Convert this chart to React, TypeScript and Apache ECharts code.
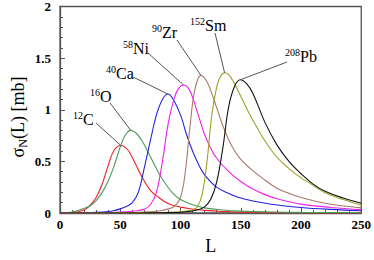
import React, { useEffect, useRef } from "react";
import * as echarts from "echarts";

const C12_L = [0, 10, 20, 25, 30, 35, 40, 45, 50.5, 56, 62, 68, 75, 82, 90, 100, 110, 120, 135, 150, 175, 200, 250];
const C12_V = [0, 0.004, 0.03, 0.075, 0.15, 0.28, 0.46, 0.61, 0.654, 0.615, 0.49, 0.35, 0.22, 0.15, 0.09, 0.057, 0.038, 0.025, 0.014, 0.008, 0.004, 0.002, 0.001];

const O16_L = [0, 10, 20, 25, 30, 35, 40, 45, 50, 54, 58.7, 63, 68, 74, 80, 86, 93, 100, 110, 120, 135, 150, 175, 200, 250];
const O16_V = [0, 0.01, 0.045, 0.07, 0.12, 0.2, 0.31, 0.46, 0.64, 0.75, 0.8, 0.775, 0.7, 0.57, 0.43, 0.31, 0.2, 0.13, 0.08, 0.05, 0.029, 0.018, 0.01, 0.006, 0.003];

const CA40_L = [0, 20, 30, 40, 45, 50, 55, 60, 65, 70, 75, 80, 85, 89.6, 94, 100, 105, 110, 115, 120, 130, 140, 150, 160, 175, 200, 225, 250];
const CA40_V = [0, 0.003, 0.006, 0.014, 0.024, 0.04, 0.063, 0.1, 0.2, 0.44, 0.7, 0.95, 1.1, 1.152, 1.1, 0.95, 0.76, 0.6, 0.47, 0.37, 0.25, 0.19, 0.145, 0.117, 0.085, 0.054, 0.035, 0.022];

const NI58_L = [0, 30, 40, 50, 60, 65, 70, 75, 80, 85, 90, 95, 98.5, 102.5, 106.5, 110, 115, 120, 125, 130, 140, 150, 160, 170, 180, 200, 225, 250];
const NI58_V = [0, 0.002, 0.004, 0.008, 0.017, 0.025, 0.038, 0.08, 0.2, 0.5, 0.88, 1.12, 1.21, 1.24, 1.21, 1.12, 0.94, 0.76, 0.63, 0.53, 0.4, 0.305, 0.232, 0.178, 0.138, 0.086, 0.054, 0.033];

const ZR90_L = [0, 40, 60, 70, 80, 85, 90, 95, 100, 104, 108, 112, 116.9, 121, 125, 130, 135, 140, 145, 150, 160, 170, 180, 190, 200, 220, 250];
const ZR90_V = [0, 0.002, 0.005, 0.009, 0.017, 0.025, 0.04, 0.065, 0.15, 0.4, 0.85, 1.2, 1.333, 1.29, 1.19, 1.02, 0.85, 0.71, 0.6, 0.52, 0.41, 0.32, 0.24, 0.19, 0.15, 0.095, 0.05];

const SM152_L = [0, 60, 80, 90, 100, 105, 110, 114, 118, 122, 126, 130, 133, 136.6, 140, 144, 148, 155, 160, 170, 180, 190, 200, 210, 220, 235, 250];
const SM152_V = [0, 0.001, 0.003, 0.006, 0.012, 0.018, 0.03, 0.06, 0.18, 0.5, 0.95, 1.22, 1.32, 1.358, 1.34, 1.27, 1.18, 1.01, 0.9, 0.7, 0.54, 0.43, 0.34, 0.27, 0.195, 0.13, 0.075];

const PB208_L = [0, 70, 80, 90, 100, 110, 115, 120, 125, 130, 135, 140, 145, 149.7, 155, 160, 170, 180, 190, 200, 210, 220, 235, 250];
const PB208_V = [0, 0.001, 0.002, 0.004, 0.008, 0.02, 0.033, 0.06, 0.13, 0.3, 0.62, 1.03, 1.23, 1.29, 1.25, 1.16, 0.88, 0.66, 0.5, 0.38, 0.28, 0.21, 0.145, 0.095];

const SERIES_L = [C12_L, O16_L, CA40_L, NI58_L, ZR90_L, SM152_L, PB208_L];
const SERIES_V = [C12_V, O16_V, CA40_V, NI58_V, ZR90_V, SM152_V, PB208_V];
const LABEL_SUP = ["12", "16", "40", "58", "90", "152", "208"];
const LABEL_EL = ["C", "O", "Ca", "Ni", "Zr", "Sm", "Pb"];
const COLORS = ["#ee2222", "#4a9a5a", "#2222dd", "#ee22ee", "#a87868", "#a0a028", "#111111"];

const X_TICKS = [0, 50, 100, 150, 200, 250];
const Y_TICKS = [0, 0.5, 1, 1.5, 2];

// label layout (pixels): text left, text middle y, leader start x, y
const LABEL_POS = [
  [73, 119, 96, 123],
  [90, 96, 110, 103],
  [106, 73.5, 133, 77],
  [123, 48.5, 148, 53],
  [152, 32.5, 177, 40],
  [190, 25, 215, 33],
  [285, 56.5, 287, 62],
];

const FONT = "serif";

export default function App() {
  const ref = useRef<HTMLDivElement>(null);
  useEffect(() => {
    const chart = echarts.init(ref.current!, null, { renderer: "svg" });
    const tickColor = "#555";
    const axisCommon = (min: number, max: number, interval: number) => ({
      type: "value",
      min,
      max,
      interval,
      axisLine: { show: true, lineStyle: { color: tickColor, width: 1.3 } },
      axisTick: { show: true, inside: true, length: 5, lineStyle: { color: tickColor, width: 1 } },
      minorTick: { show: true, splitNumber: 5, length: 3, lineStyle: { color: tickColor, width: 1 } },
      splitLine: { show: false },
      minorSplitLine: { show: false },
    });
    chart.setOption({
      animation: false,
      textStyle: { fontFamily: FONT },
      grid: { left: 60, right: 9, top: 6, bottom: 44, show: true, borderColor: tickColor, borderWidth: 1.3 },
      xAxis: {
        ...axisCommon(X_TICKS[0], X_TICKS[X_TICKS.length - 1], X_TICKS[1] - X_TICKS[0]),
        axisLabel: { fontFamily: FONT, fontWeight: "bold", fontSize: 13, color: "#000", margin: 5 },
        name: "L",
        nameLocation: "middle",
        nameGap: 24,
        nameTextStyle: { fontFamily: FONT, fontSize: 18, color: "#000" },
      },
      yAxis: {
        ...axisCommon(Y_TICKS[0], Y_TICKS[Y_TICKS.length - 1], Y_TICKS[1] - Y_TICKS[0]),
        axisLabel: { fontFamily: FONT, fontWeight: "bold", fontSize: 13, color: "#000", margin: 9 },
      },
      series: SERIES_V.map((vals, k) => ({
        type: "line",
        name: LABEL_SUP[k] + LABEL_EL[k],
        data: SERIES_L[k].map((x, i) => [x, vals[i]]),
        showSymbol: false,
        smooth: 0.4,
        lineStyle: { color: COLORS[k], width: 1.1 },
        itemStyle: { color: COLORS[k] },
        z: 3,
      })),
    });

    const graphics: any[] = [];
    SERIES_V.forEach((vals, k) => {
      let mi = 0;
      vals.forEach((v, i) => { if (v > vals[mi]) mi = i; });
      const p = chart.convertToPixel({ gridIndex: 0 }, [SERIES_L[k][mi], vals[mi]]) as number[];
      const [tx, ty, lx, ly] = LABEL_POS[k];
      graphics.push({
        type: "line",
        shape: { x1: lx, y1: ly, x2: p[0], y2: p[1] },
        style: { stroke: "#555", lineWidth: 1 },
        z: 10,
      });
      graphics.push({
        type: "text",
        x: tx,
        y: ty,
        style: {
          text: `{s|${LABEL_SUP[k]}}{e|${LABEL_EL[k]}}`,
          textVerticalAlign: "middle",
          textAlign: "left",
          fill: "#000",
          fontFamily: FONT,
          rich: {
            s: { fontFamily: FONT, fontSize: 10, lineHeight: 10, verticalAlign: "top", fill: "#000" },
            e: { fontFamily: FONT, fontSize: 16, lineHeight: 18, verticalAlign: "middle", fill: "#000" },
          },
        },
        z: 10,
      });
    });
    graphics.push({
      type: "text",
      x: 18,
      y: 117,
      rotation: Math.PI / 2,
      style: {
        text: "{a|σ}{n|N}{a|(L) [mb]}",
        textAlign: "center",
        textVerticalAlign: "middle",
        fill: "#000",
        fontFamily: FONT,
        rich: {
          a: { fontFamily: FONT, fontSize: 18, lineHeight: 22, verticalAlign: "middle", fill: "#000" },
          n: { fontFamily: FONT, fontSize: 12, lineHeight: 12, verticalAlign: "bottom", fill: "#000" },
        },
      },
    });
    chart.setOption({ graphic: graphics });
    return () => chart.dispose();
  }, []);
  return <div ref={ref} style={{ width: 374, height: 260, position: "absolute", left: 0, top: 0 }} />;
}
